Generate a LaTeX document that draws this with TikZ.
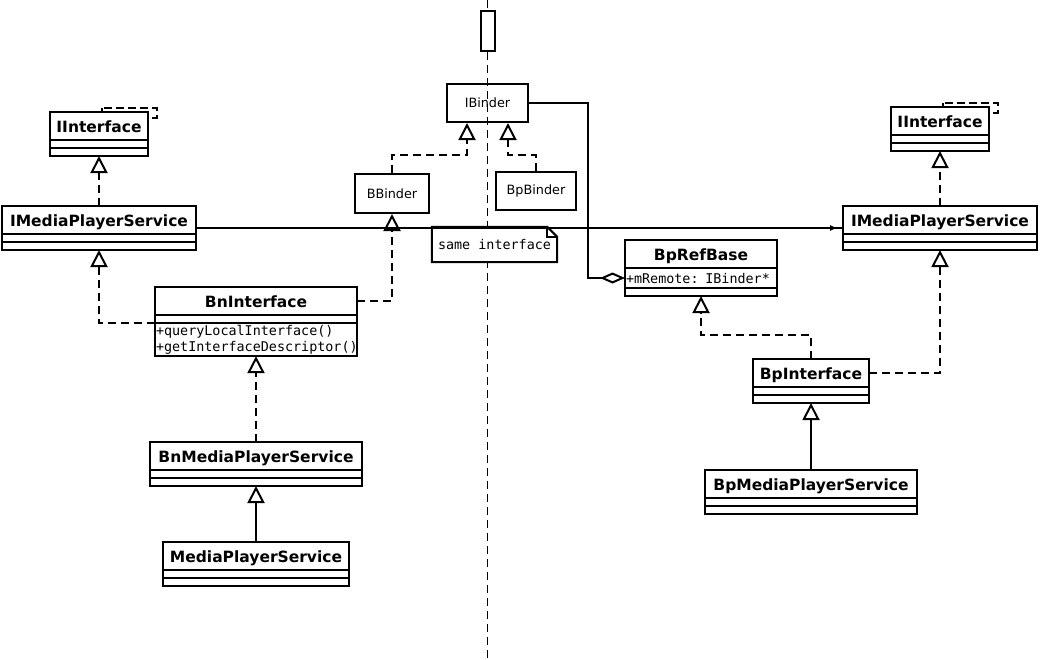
\documentclass[tikz,border=0pt]{standalone}
\usepackage{fontspec}
\setmainfont{DejaVu Sans}
\setmonofont{DejaVu Sans Mono}
\usetikzlibrary{arrows.meta,positioning,decorations.markings}

\newcommand\mono{\ttfamily\fontsize{13.4}{16}\selectfont}

\tikzset{
	clsname/.style={draw, fill=white, line width=2pt, outer sep=0pt, inner sep=0pt,
		minimum height=28, anchor=north, text height=13, text depth=0,
		font=\bfseries\fontsize{15.5}{18}\selectfont},
	clspart/.style={draw, fill=white, line width=2pt, outer sep=0pt,
		inner xsep=1pt, inner ysep=2pt, minimum height=8, align=left, font=\mono},
	plainbox/.style={draw, line width=2pt, font=\fontsize{12.8}{15}\selectfont},
	notebox/.style={fill=white, minimum width=125, minimum height=35, font=\mono},
	realize/.style={line width=2pt, dash pattern=on 8pt off 5pt,
		-{Triangle[open,length=17pt,width=17pt]}},
	inherit/.style={line width=2pt, -{Triangle[open,length=17pt,width=17pt]}},
	aggr/.style={line width=2pt, {Diamond[open,length=25pt,width=11pt]}-},
	tmpl/.style={line width=2pt, dash pattern=on 8pt off 4pt},
	lifeline/.style={line width=1pt, dash pattern=on 8pt off 5pt}
}

\begin{document}
\begin{tikzpicture}[x=1pt, y=-1pt]
	\useasboundingbox (0,0) rectangle (1040,659);

	% lifeline in the middle
	\coordinate (lltop) at (487.5,0);
	\coordinate (llbot) at (487.5,659);
	\draw[lifeline] (lltop) -- (llbot);
	\node[plainbox, fill=white, minimum width=14, minimum height=40] (act) at (488,31) {};

	% binder side
	\node[plainbox, minimum width=81, minimum height=38] (ibinder) at (487.5,103) {IBinder};
	\node[plainbox, fill=white, minimum width=74, minimum height=39] (bbinder) at (392,193.5) {BBinder};
	\node[plainbox, fill=white, minimum width=80, minimum height=38] (bpbinder) at (536,191) {BpBinder};

	% native (left) side
	\draw[tmpl] (102,108) rectangle (157,118);
	\node[clsname, minimum width=98] (liif) at (99,112) {IInterface};
	\node[clspart, minimum width=98, below=0pt of liif] (liif-a) {};
	\node[clspart, minimum width=98, below=0pt of liif-a] (liif-b) {};

	\node[clsname, minimum width=194] (limps) at (99,206) {IMediaPlayerService};
	\node[clspart, minimum width=194, below=0pt of limps] (limps-a) {};
	\node[clspart, minimum width=194, below=0pt of limps-a] (limps-b) {};

	\node[clsname, minimum width=202] (bnif) at (256,287) {BnInterface};
	\node[clspart, minimum width=202, below=0pt of bnif] (bnif-a) {};
	\node[clspart, minimum width=202, text width=200, below=0pt of bnif-a] (bnif-b)
		{+queryLocalInterface()\\+getInterfaceDescriptor()};

	\node[clsname, minimum width=212] (bnmps) at (256,442) {BnMediaPlayerService};
	\node[clspart, minimum width=212, below=0pt of bnmps] (bnmps-a) {};
	\node[clspart, minimum width=212, below=0pt of bnmps-a] (bnmps-b) {};

	\node[clsname, minimum width=186] (mps) at (256,542) {MediaPlayerService};
	\node[clspart, minimum width=186, below=0pt of mps] (mps-a) {};
	\node[clspart, minimum width=186, below=0pt of mps-a] (mps-b) {};

	% proxy (right) side
	\node[clsname, minimum width=152] (brb) at (701,240) {BpRefBase};
	\node[clspart, minimum width=152, minimum height=20, text width=150, below=0pt of brb] (brb-a) {+mRemote: IBinder*};
	\node[clspart, minimum width=152, below=0pt of brb-a] (brb-b) {};

	\draw[tmpl] (943,103) rectangle (998,113);
	\node[clsname, minimum width=98] (riif) at (940,107) {IInterface};
	\node[clspart, minimum width=98, below=0pt of riif] (riif-a) {};
	\node[clspart, minimum width=98, below=0pt of riif-a] (riif-b) {};

	\node[clsname, minimum width=194] (rimps) at (940,206) {IMediaPlayerService};
	\node[clspart, minimum width=194, below=0pt of rimps] (rimps-a) {};
	\node[clspart, minimum width=194, below=0pt of rimps-a] (rimps-b) {};

	\node[clsname, minimum width=116] (bpif) at (811,359) {BpInterface};
	\node[clspart, minimum width=116, below=0pt of bpif] (bpif-a) {};
	\node[clspart, minimum width=116, below=0pt of bpif-a] (bpif-b) {};

	\node[clsname, minimum width=212] (bpmps) at (811,470) {BpMediaPlayerService};
	\node[clspart, minimum width=212, below=0pt of bpmps] (bpmps-a) {};
	\node[clspart, minimum width=212, below=0pt of bpmps-a] (bpmps-b) {};

	\node[notebox] (same) at (494.5,244.5) {same interface};
	\draw[line width=2pt] (same.north west) -- ([xshift=-10pt]same.north east) -- ([yshift=-10pt]same.north east)
		-- (same.south east) -- (same.south west) -- cycle;
	\draw[line width=2pt] ([xshift=-10pt]same.north east) |- ([yshift=-10pt]same.north east);

	% connectors
	\draw[realize] (limps.north) -- (liif-b.south);
	\draw[realize] (bnif-a.south west) -| (limps-b.south);
	\draw[realize] (bnif.east) -| (bbinder.south);
	\draw[realize] (bbinder.north) -- ++(0,-18) -| ([xshift=-20.5pt]ibinder.south);
	\draw[realize] (bpbinder.north) -- ++(0,-16) -| ([xshift=20.5pt]ibinder.south);
	\draw[realize] (bnmps.north) -- (bnif-b.south);
	\draw[inherit] (mps.north) -- (bnmps-b.south);
	\draw[line width=2pt, postaction={decorate}, decoration={markings,
		mark=at position -5pt with {\arrow{Latex[length=8pt,width=6pt]}}}]
		([yshift=-8pt]limps.east) -- ([yshift=-8pt]rimps.west);
	\draw[aggr] (brb-a.west) -- ++(-37,0) |- (ibinder.east);
	\draw[realize] (bpif.north) -- ++(0,-24) -| (brb-b.south);
	\draw[realize] (bpif.east) -| (rimps-b.south);
	\draw[realize] (rimps.north) -- (riif-b.south);
	\draw[inherit] (bpmps.north) -- (bpif-b.south);
\end{tikzpicture}
\end{document}
